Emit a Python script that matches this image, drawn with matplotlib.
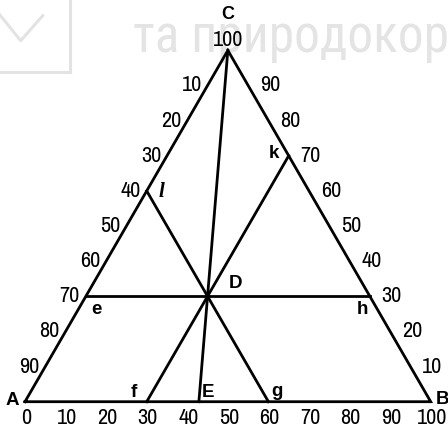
import numpy as np
import matplotlib
matplotlib.use("Agg")
import matplotlib.pyplot as plt
from matplotlib.lines import Line2D

# ---------------- data ----------------
base_ticks = [0, 10, 20, 30, 40, 50, 60, 70, 80, 90, 100]     # B component along A-B
left_ticks = [10, 20, 30, 40, 50, 60, 70, 80, 90]             # A component along C-A
right_ticks = [10, 20, 30, 40, 50, 60, 70, 80, 90]            # C component along B-C
top_tick = 100
point_D = (40, 30, 30)     # (A, B, C) in percent
vertex_names = ["A", "B", "C"]
watermark = "та природокористування"

# ---------------- helpers ----------------
SQ = np.sqrt(3) / 2


def tern(a, b, c):
    return b + c / 2.0, c * SQ


num_font = dict(family=["Archivo Narrow", "Liberation Sans"])
num_size = 16
bold_font = dict(family="Liberation Sans", weight="bold")

W, H = 448, 430
fig = plt.figure(figsize=(W / 100, H / 100), dpi=100)
ax = fig.add_axes([0, 0, 1, 1])
ax.set_axis_off()
ax.patch.set_visible(False)
ax.set_zorder(2)

s = 4.057            # pixels per percent unit
ax0_px, ay0_px = 25.0, 28.3
ax.set_xlim(-ax0_px / s, (W - ax0_px) / s)
ax.set_ylim(-ay0_px / s, (H - ay0_px) / s)

# watermark (background)
fig.text(133 / W, 1 - 53 / H, watermark, fontsize=37, color="#e4e4e4",
         family=["Roboto Condensed", "Roboto"],
         va="baseline", ha="left", zorder=0)
box_col = "#e3e3e3"
fig.add_artist(Line2D([70, 70], [H, H - 72], transform=None, color=box_col, lw=2.2))
fig.add_artist(Line2D([0, 70], [H - 72, H - 72], transform=None, color=box_col, lw=2.2))
fig.add_artist(Line2D([0, 20.7, 42.7], [H - 15, H - 40.7, H - 15.7], transform=None,
                      color=box_col, lw=2.2))

lw = 2.0
k = "black"
A = tern(100, 0, 0)
B = tern(0, 100, 0)
C = tern(0, 0, 100)
ax.plot([A[0], B[0], C[0], A[0]], [A[1], B[1], C[1], A[1]], color=k, lw=lw,
        solid_joinstyle="miter", zorder=3)

a_D, b_D, c_D = point_D
D = tern(*point_D)
e = tern(100 - c_D, 0, c_D)
h = tern(0, 100 - c_D, c_D)
f = tern(100 - b_D, b_D, 0)
kk = tern(0, b_D, 100 - b_D)
g = tern(a_D, 100 - a_D, 0)
l = tern(a_D, 0, 100 - a_D)
t = C[1] / (C[1] - D[1])
E = (C[0] + (D[0] - C[0]) * t, 0.0)

for p, q in [(e, h), (f, kk), (g, l), (C, E)]:
    ax.plot([p[0], q[0]], [p[1], q[1]], color=k, lw=lw, zorder=3)


def lab(txt, xy, dx, dy, **kw):
    ax.annotate(txt, xy=xy, xytext=(dx, dy), textcoords="offset pixels",
                ha="center", va="center", zorder=4, **kw)


for v in base_ticks:
    lab(str(v), tern(100 - v, v, 0), 1, -16.5, fontsize=num_size, **num_font)
for v in left_ticks:
    lab(str(v), tern(v, 0, 100 - v), -16, 0, fontsize=num_size, **num_font)
for v in right_ticks:
    lab(str(v), tern(0, 100 - v, v), 22, 0, fontsize=num_size, **num_font)
lab(str(top_tick), C, 0, 10, fontsize=num_size, **num_font)

lab(vertex_names[0], A, -13, 1, fontsize=13.5, **bold_font)
lab(vertex_names[1], B, 12, 2, fontsize=13.5, **bold_font)
lab(vertex_names[2], C, 0, 36, fontsize=13, **bold_font)

lab("D", D, 28, 13, fontsize=13.5, **bold_font)
lab("e", e, 11, -13, fontsize=13.5, **bold_font)
lab("h", h, -7, -13, fontsize=13.5, **bold_font)
lab("f", f, -13, 9, fontsize=13.5, **bold_font)
lab("E", E, 9.5, 9, fontsize=13.5, **bold_font)
lab("g", g, 9, 10, fontsize=13.5, **bold_font)
lab("k", kk, -15, 2, fontsize=13.5, **bold_font)
lab("l", l, 15, -1, fontsize=15, family="Liberation Serif", style="italic",
    weight="bold")

fig.savefig("out.png", dpi=100)
